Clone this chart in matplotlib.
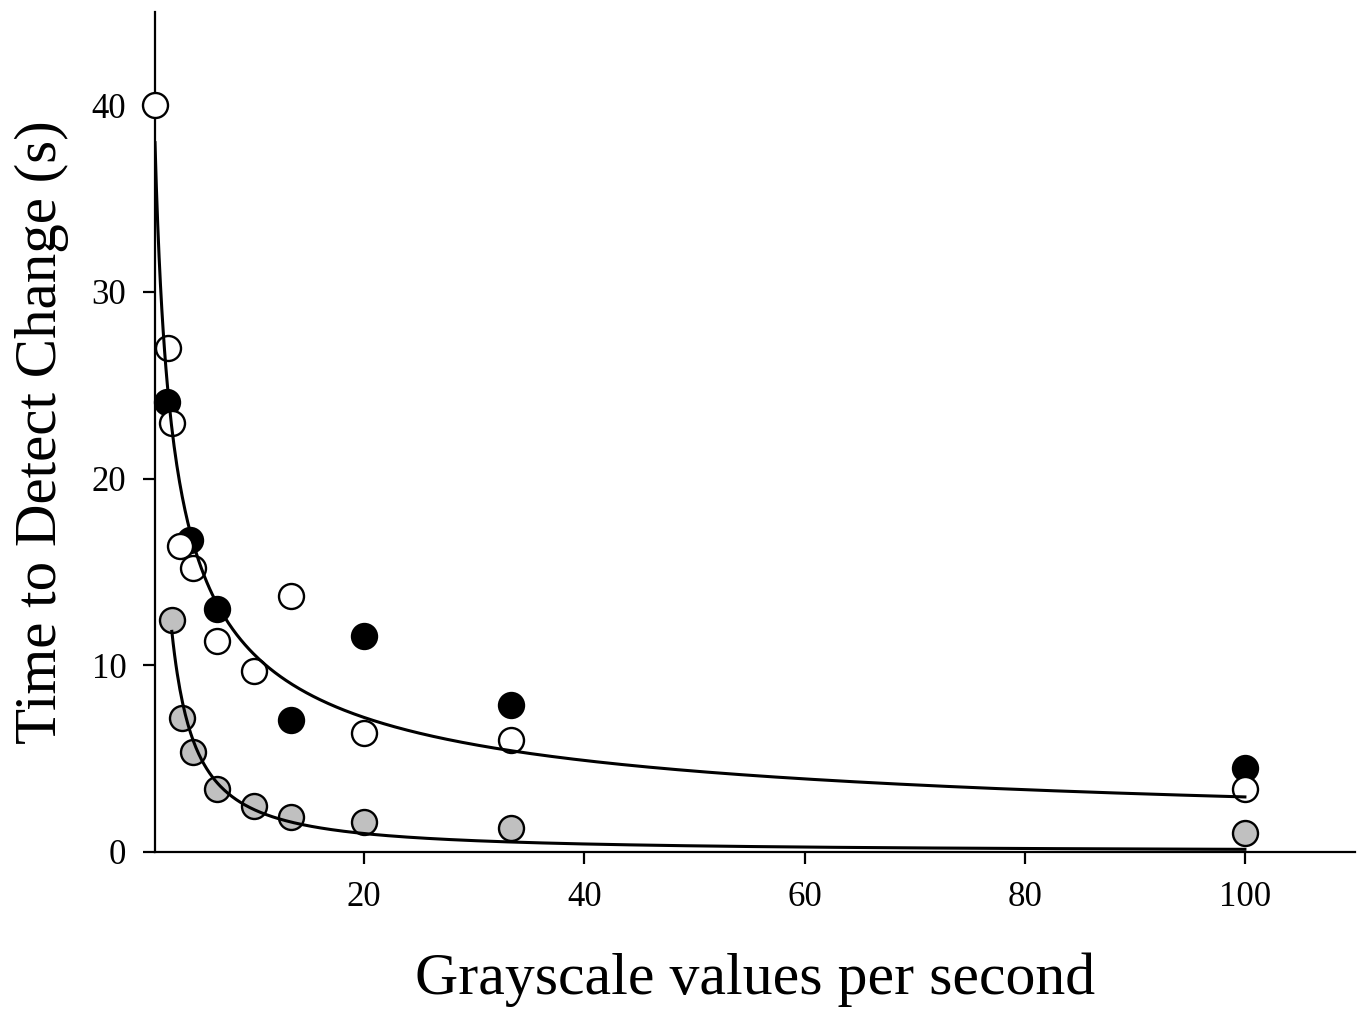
import numpy as np
import matplotlib
matplotlib.use("Agg")
import matplotlib.pyplot as plt

plt.rcParams["font.family"] = ["Liberation Serif", "DejaVu Serif"]

# black (filled) series
black_x = [2.1, 4.2, 6.67, 13.33, 20, 33.33, 100]
black_y = [24.1, 16.7, 13.0, 7.05, 11.55, 7.85, 4.5]

# white (open) series
white_x = [1, 2.2, 2.56, 3.3, 4.45, 6.67, 10, 13.33, 20, 33.33, 100]
white_y = [40, 27, 23, 16.4, 15.2, 11.3, 9.7, 13.7, 6.35, 6.0, 3.35]

# gray series
gray_x = [2.53, 3.42, 4.48, 6.67, 10, 13.33, 20, 33.33, 100]
gray_y = [12.45, 7.2, 5.35, 3.4, 2.45, 1.9, 1.6, 1.3, 1.0]

# power-law fits y = a * x**b
upper_fit = (38.0, -0.555, 1.0, 100.0)
lower_fit = (36.0, -1.2, 2.53, 100.0)

xticks = [20, 40, 60, 80, 100]
yticks = [0, 10, 20, 30, 40]

fig = plt.figure(figsize=(13.63, 10.11), dpi=100)
ax = fig.add_axes([155/1363, 1 - 852/1011, 1200/1363, 840/1011])

ms = 18
for xs, ys, fc in ((black_x, black_y, 'black'),
                   (white_x, white_y, 'white'),
                   (gray_x, gray_y, '#c0c0c0')):
    ax.plot(xs, ys, 'o', ms=ms, mfc=fc, mec='black', mew=1.7, zorder=3, clip_on=False)

for a, b, x0, x1 in (upper_fit, lower_fit):
    xs = np.linspace(x0, x1, 800)
    ax.plot(xs, a * xs ** b, color='black', lw=2.2, zorder=4)

ax.set_xlim(1, 110)
ax.set_ylim(0, 45)
ax.set_xticks(xticks)
ax.set_yticks(yticks)
ax.spines['top'].set_visible(False)
ax.spines['right'].set_visible(False)
for s in ('left', 'bottom'):
    ax.spines[s].set_linewidth(1.6)
ax.tick_params(direction='out', length=8.6, width=1.6, labelsize=25, pad=12)

ax.set_xlabel("Grayscale values per second", fontsize=43, labelpad=28)
ax.set_ylabel("Time to Detect Change (s)", fontsize=42.5, labelpad=16)

fig.savefig("out.png", dpi=100)
